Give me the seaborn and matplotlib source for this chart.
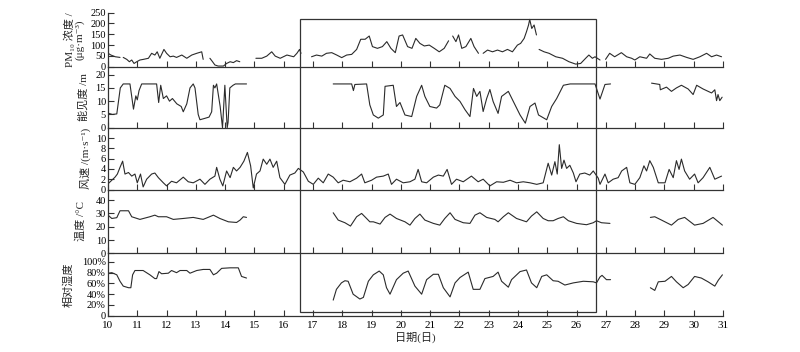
import matplotlib
matplotlib.use("Agg")
import matplotlib.pyplot as plt
from matplotlib.patches import Rectangle
import pandas as pd
import seaborn as sns

# ---- PM10 (segments split at the gaps in the record)
pm10_days = [
    [10.0, 10.1, 10.25, 10.41],
    [10.52, 10.64, 10.73, 10.81, 10.89, 10.98, 11.09, 11.21, 11.38, 11.49, 11.6, 11.68, 11.77,
     11.91, 12.0, 12.12, 12.23, 12.34, 12.52, 12.69, 12.86, 13.03, 13.2, 13.25],
    [13.48, 13.57, 13.65, 13.76, 13.94, 14.05, 14.17, 14.28, 14.39, 14.5],
    [15.05, 15.25, 15.42, 15.59, 15.71, 15.88, 16.11, 16.34, 16.45, 16.54, 16.59],
    [16.95, 17.12, 17.3, 17.46, 17.64, 17.81, 17.98, 18.15, 18.32, 18.49, 18.63, 18.78, 18.92,
     19.03, 19.2, 19.37, 19.52, 19.66, 19.81, 19.94, 20.06, 20.23, 20.38, 20.51, 20.65, 20.8,
     20.97, 21.14, 21.31, 21.48, 21.63],
    [21.77, 21.88, 21.97, 22.08, 22.22, 22.39, 22.5, 22.65],
    [22.81, 22.96, 23.13, 23.3, 23.47, 23.64, 23.81, 23.98, 24.09, 24.21, 24.29, 24.36, 24.4,
     24.47, 24.55, 24.63],
    [24.72, 24.89, 25.06, 25.29, 25.52, 25.74, 25.97, 26.14, 26.31, 26.42, 26.54, 26.63, 26.8],
    [26.99, 27.13, 27.3, 27.53, 27.71, 27.88, 27.99, 28.16, 28.39, 28.5, 28.67, 28.9, 29.13,
     29.3, 29.53, 29.76, 29.98, 30.21, 30.44, 30.61, 30.78, 30.95],
]
pm10_vals = [
    [62, 54, 46, 43],
    [43, 34, 23, 31, 15, 23, 31, 34, 39, 62, 54, 69, 39, 80, 62, 46, 49, 43, 54, 39, 54, 62, 69, 34],
    [39, 23, 8, 3, 3, 15, 23, 19, 28, 23],
    [39, 39, 49, 69, 49, 39, 54, 46, 62, 80, 62],
    [46, 54, 49, 62, 65, 54, 42, 54, 57, 80, 127, 127, 142, 93, 85, 93, 116, 85, 65, 142, 147,
     93, 85, 131, 108, 96, 100, 85, 69, 85, 120],
    [142, 116, 147, 85, 93, 131, 93, 62],
    [62, 77, 69, 77, 69, 80, 69, 100, 108, 131, 162, 193, 219, 177, 193, 147],
    [80, 69, 62, 46, 39, 23, 12, 15, 39, 54, 39, 46, 31],
    [34, 62, 46, 65, 46, 39, 31, 46, 39, 59, 39, 34, 39, 49, 54, 43, 34, 46, 62, 46, 54, 46],
]

# ---- visibility
vis_days = [
    [10.0, 10.15, 10.3, 10.42, 10.52, 10.75, 10.87, 10.95, 11.0, 11.06, 11.15, 11.66, 11.73,
     11.8, 11.89, 12.0, 12.1, 12.2, 12.35, 12.5, 12.57, 12.69, 12.8, 12.91, 12.97, 13.08, 13.14,
     13.3, 13.45, 13.54, 13.6, 13.65, 13.71, 13.83, 13.91, 13.99, 14.07, 14.1, 14.16, 14.27,
     14.35, 14.73],
    [17.69, 18.32, 18.38, 18.43, 18.83, 18.94, 19.06, 19.23, 19.4, 19.46, 19.74, 19.85, 19.97,
     20.14, 20.37, 20.54, 20.71, 20.82, 20.99, 21.22, 21.33, 21.5, 21.68, 21.85, 22.02, 22.19,
     22.36, 22.48, 22.59, 22.7, 22.81, 22.93, 23.04, 23.15, 23.32, 23.44, 23.67, 23.84, 24.07,
     24.25, 24.41, 24.58, 24.7, 24.98, 25.15, 25.32, 25.55, 25.78, 26.63, 26.8, 26.97, 27.16],
    [28.56, 28.84, 28.86, 29.07, 29.24, 29.41, 29.58, 29.81, 29.98, 30.1, 30.32, 30.61, 30.72,
     30.78, 30.83, 30.89, 30.97],
]
vis_vals = [
    [5.5, 5.0, 5.2, 15, 16.5, 16.5, 7, 12, 10.5, 14, 16.5, 16.5, 9.5, 16, 11, 12, 10, 11, 9, 8,
     6, 9, 15, 16.5, 15, 5, 3, 3.5, 4, 6, 16, 15, 16.5, 8, 0, 16, 0, 2, 15, 16, 16.5, 16.5],
    [16.5, 16.5, 14, 16.3, 16.5, 8.6, 4.8, 3.6, 4.8, 15.6, 16, 8, 9.5, 4.8, 4.2, 11.8, 16, 11.8,
     8, 7.4, 8.6, 16, 14.8, 11.8, 9.9, 6.8, 4.2, 14.8, 11.8, 13.7, 6.1, 11, 14.4, 9.9, 5.4, 11.8,
     13.7, 9.9, 4.8, 1.7, 8, 9.3, 4.8, 3, 8, 11, 16, 16.5, 16.5, 10.8, 16.3, 16.5],
    [16.8, 16.3, 14.3, 15.3, 13.7, 15, 16, 14.6, 12.5, 16, 14.6, 13.1, 14.3, 10.2, 12.5, 10.2, 11.5],
]

# ---- wind speed
wind_days = [[
    10.0, 10.13, 10.24, 10.32, 10.41, 10.5, 10.58, 10.7, 10.81, 10.92, 11.0, 11.11, 11.2, 11.32,
    11.49, 11.6, 11.72, 11.89, 12.0, 12.17, 12.34, 12.57, 12.74, 12.91, 13.14, 13.31, 13.48,
    13.65, 13.71, 13.82, 13.92, 14.05, 14.17, 14.28, 14.39, 14.51, 14.64, 14.76, 14.87, 14.96,
    15.07, 15.19, 15.3, 15.42, 15.53, 15.64, 15.76, 15.87, 16.04, 16.21, 16.38, 16.5, 16.67,
    16.84, 17.01, 17.18, 17.35, 17.52, 17.69, 17.86, 18.03, 18.26, 18.49, 18.66, 18.77, 19.0,
    19.17, 19.4, 19.57, 19.68, 19.85, 20.08, 20.31, 20.48, 20.59, 20.71, 20.88, 21.11, 21.28,
    21.45, 21.58, 21.73, 21.9, 22.13, 22.41, 22.64, 22.81, 23.04, 23.27, 23.5, 23.73, 23.95,
    24.18, 24.41, 24.64, 24.86, 25.03, 25.15, 25.26, 25.34, 25.41, 25.49, 25.57, 25.66, 25.77,
    25.89, 25.98, 26.11, 26.28, 26.45, 26.57, 26.74, 26.8, 26.97, 27.08, 27.25, 27.42, 27.54,
    27.71, 27.82, 27.99, 28.16, 28.3, 28.39, 28.5, 28.62, 28.79, 29.02, 29.16, 29.3, 29.41,
    29.5, 29.58, 29.69, 29.86, 30.03, 30.15, 30.32, 30.55, 30.72, 30.95]]
wind_vals = [[
    1.1, 1.8, 2.4, 3.0, 4.3, 5.5, 3.0, 3.3, 2.6, 3.0, 1.3, 3.0, 0.5, 2.0, 3.0, 3.2, 2.3, 1.3,
    0.7, 1.6, 1.3, 2.4, 1.5, 1.3, 2.0, 1.0, 2.0, 2.6, 4.3, 2.0, 0.7, 3.6, 2.3, 4.3, 3.6, 4.3,
    5.5, 7.2, 4.6, 0.3, 3.0, 3.6, 5.9, 4.9, 5.9, 4.3, 5.5, 2.3, 1.0, 2.8, 3.2, 4.1, 3.4, 1.6,
    1.0, 2.2, 1.3, 3.0, 2.4, 1.3, 1.8, 1.5, 2.2, 3.0, 1.3, 1.8, 2.4, 2.6, 3.0, 1.0, 2.0, 1.3,
    1.5, 2.0, 3.9, 1.5, 1.3, 2.4, 2.8, 2.6, 3.9, 1.0, 2.0, 1.5, 2.6, 1.5, 2.0, 0.7, 1.5, 1.4,
    1.8, 1.3, 1.5, 1.3, 1.0, 1.3, 5.1, 2.8, 5.4, 3.0, 8.7, 4.1, 5.7, 4.1, 4.7, 3.2, 1.5, 3.0,
    3.2, 2.8, 3.6, 2.2, 1.0, 3.0, 1.3, 2.0, 2.3, 3.6, 4.3, 1.3, 1.0, 2.3, 4.6, 3.6, 5.6, 4.3,
    1.3, 1.3, 3.9, 2.3, 5.6, 3.9, 5.9, 3.6, 2.0, 3.0, 1.3, 2.3, 4.3, 2.0, 2.6]]

# ---- temperature
temp_days = [
    [10.0, 10.13, 10.3, 10.41, 10.7, 10.81, 11.09, 11.43, 11.6, 11.72, 12.0, 12.23, 12.57,
     12.91, 13.25, 13.6, 13.82, 14.11, 14.39, 14.51, 14.62, 14.73],
    [17.69, 17.86, 18.09, 18.28, 18.49, 18.66, 18.83, 18.94, 19.06, 19.29, 19.46, 19.63, 19.85,
     20.14, 20.31, 20.48, 20.65, 20.82, 21.11, 21.33, 21.5, 21.68, 21.85, 22.13, 22.36, 22.53,
     22.7, 22.93, 23.21, 23.32, 23.5, 23.67, 23.95, 24.29, 24.46, 24.64, 24.86, 25.03, 25.2,
     25.37, 25.55, 25.72, 26.0, 26.34, 26.57, 26.68, 26.85, 27.14],
    [28.52, 28.67, 28.9, 29.24, 29.47, 29.69, 30.03, 30.32, 30.66, 30.98],
]
temp_vals = [
    [28.7, 26.2, 26.8, 32, 32, 27.5, 25.5, 27.5, 28.7, 27.5, 27.5, 25.5, 26.2, 27, 25.5, 28.7,
     26.2, 23.7, 23.2, 25, 27.5, 27],
    [30.5, 25, 23, 20.5, 27.5, 30, 26.2, 23.7, 23.7, 22, 27, 29.5, 26.2, 23.7, 21.2, 26.2, 29.5,
     25, 22.5, 21.2, 26.2, 30.5, 25.5, 23, 22.5, 28.7, 30.5, 27, 25.5, 23.7, 27.5, 30.5, 26.2,
     23.7, 28, 31.2, 26.2, 24.5, 24.5, 26.2, 27.5, 24.5, 22.5, 21.5, 23, 24.5, 23, 22.5],
    [27, 27.5, 25, 21.2, 25.5, 27, 21.2, 22.5, 27, 21.2],
]

# ---- relative humidity (%)
rh_days = [
    [10.0, 10.13, 10.3, 10.41, 10.52, 10.7, 10.78, 10.84, 10.92, 11.2, 11.43, 11.6, 11.66,
     11.74, 11.83, 12.06, 12.17, 12.34, 12.46, 12.69, 12.8, 13.03, 13.25, 13.48, 13.6, 13.71,
     13.88, 14.17, 14.45, 14.56, 14.73],
    [17.69, 17.8, 17.97, 18.09, 18.2, 18.37, 18.6, 18.72, 18.89, 19.06, 19.26, 19.4, 19.51,
     19.63, 19.85, 20.08, 20.25, 20.48, 20.71, 20.88, 21.11, 21.28, 21.45, 21.68, 21.85, 22.02,
     22.3, 22.47, 22.7, 22.87, 23.15, 23.32, 23.44, 23.67, 23.78, 24.07, 24.29, 24.46, 24.64,
     24.81, 24.98, 25.2, 25.37, 25.6, 25.89, 26.23, 26.57, 26.68, 26.8, 26.87, 27.02, 27.16],
    [28.52, 28.67, 28.79, 29.02, 29.24, 29.41, 29.64, 29.81, 30.03, 30.26, 30.49, 30.72, 30.84,
     30.98],
]
rh_vals = [
    [79, 80, 76, 64, 55, 52, 52, 76, 84, 84, 76, 69, 69, 82, 78, 79, 84, 80, 84, 84, 79, 84, 86,
     86, 76, 79, 88, 89, 89, 73, 70],
    [29, 49, 61, 65, 64, 40, 31, 34, 64, 76, 83, 76, 52, 40, 67, 79, 83, 55, 40, 67, 77, 77, 52,
     35, 61, 71, 81, 49, 49, 69, 73, 81, 64, 53, 67, 82, 85, 61, 52, 73, 76, 65, 64, 57, 61, 64,
     63, 61, 72, 75, 67, 67],
    [52, 47, 63, 64, 73, 63, 52, 58, 73, 70, 63, 55, 66, 76],
]

day_ticks = list(range(10, 32))
box_days = [16.56, 26.66]
box_top_pm10 = 219
box_bottom_rh = 7


def make_df(days, vals):
    rows = []
    for k, (d, v) in enumerate(zip(days, vals)):
        for a, b in zip(d, v):
            rows.append((a, b, k))
    return pd.DataFrame(rows, columns=["day", "val", "seg"])


sns.set_style("ticks")
fonts = ["Liberation Serif", "Noto Sans CJK SC", "DejaVu Serif"]
plt.rcParams["font.family"] = fonts

panels = [
    (pm10_days, pm10_vals, (0, 250), [0, 50, 100, 150, 200, 250], None,
     "PM₁₀ 浓度 /\n(μg·m⁻³)", -0.038, (12.7, 66.7)),
    (vis_days, vis_vals, (0, 23), [0, 5, 10, 15, 20], None,
     "能见度 /m", -0.032, (66.7, 127.7)),
    (wind_days, wind_vals, (0, 12), [0, 2, 4, 6, 8, 10], None,
     "风速 /(m·s⁻¹)", -0.028, (127.7, 189.5)),
    (temp_days, temp_vals, (0, 48), [0, 10, 20, 30, 40], None,
     "温度 /°C", -0.036, (189.5, 253.3)),
    (rh_days, rh_vals, (0, 116), [0, 20, 40, 60, 80, 100],
     ["0", "20%", "40%", "60%", "80%", "100%"],
     "相对湿度", -0.056, (253.3, 315.7)),
]

W, H = 800, 352
fig = plt.figure(figsize=(8, 3.52), dpi=100)
left, right = 108, 723
line_col = "#2b2b2b"
axes = []
for days, vals, ylim, yticks, yticklabels, ylabel, lx, (ytop, ybot) in panels:
    ax = fig.add_axes([left / W, 1 - ybot / H, (right - left) / W, (ybot - ytop) / H])
    df = make_df(days, vals)
    sns.lineplot(data=df, x="day", y="val", units="seg", estimator=None,
                 color=line_col, linewidth=0.8, ax=ax)
    ax.set_xlim(10, 31)
    ax.set_ylim(*ylim)
    ax.set_yticks(yticks)
    if yticklabels:
        ax.set_yticklabels(yticklabels)
    ax.set_xticks(day_ticks)
    ax.set_xticklabels([])
    ax.set_xlabel("")
    ax.set_ylabel(ylabel, fontsize=8, linespacing=1.0)
    ax.yaxis.set_label_coords(lx, 0.5)
    for s in ["top", "right"]:
        ax.spines[s].set_visible(False)
    for s in ["left", "bottom"]:
        ax.spines[s].set_linewidth(0.9)
        ax.spines[s].set_color("#333333")
    ax.tick_params(direction="in", length=4, width=0.8, labelsize=7.5,
                   colors="#333333", labelcolor="black", pad=1.5)
    ax.patch.set_alpha(0)
    axes.append(ax)

axes[-1].set_xticklabels([str(d) for d in day_ticks])
axes[-1].tick_params(axis="x", pad=4, labelsize=8)
axes[-1].set_xlabel("日期(日)", fontsize=8, labelpad=1)

# box around the haze episode, spanning all panels
fig.canvas.draw()
to_fig = fig.transFigure.inverted()
x0, y0 = to_fig.transform(axes[-1].transData.transform((box_days[0], box_bottom_rh)))
x1, y1 = to_fig.transform(axes[0].transData.transform((box_days[1], box_top_pm10)))
fig.add_artist(Rectangle((x0, y0), x1 - x0, y1 - y0, transform=fig.transFigure,
                         fill=False, edgecolor="#333333", linewidth=0.9))

fig.savefig("out.png", dpi=100)
